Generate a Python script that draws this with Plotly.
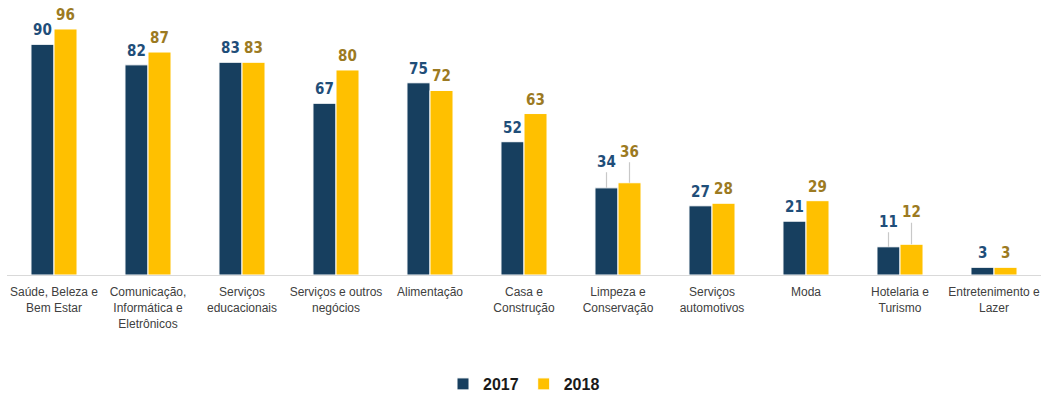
import plotly.graph_objects as go

categories = [
    "Saúde, Beleza e<br>Bem Estar",
    "Comunicação,<br>Informática e<br>Eletrônicos",
    "Serviços<br>educacionais",
    "Serviços e outros<br>negócios",
    "Alimentação",
    "Casa e<br>Construção",
    "Limpeza e<br>Conservação",
    "Serviços<br>automotivos",
    "Moda",
    "Hotelaria e<br>Turismo",
    "Entretenimento e<br>Lazer",
]
values_2017 = [90, 82, 83, 67, 75, 52, 34, 27, 21, 11, 3]
values_2018 = [96, 87, 83, 80, 72, 63, 36, 28, 29, 12, 3]

# labels lifted with a leader line (category index -> pixel lift)
lift_2017 = {6: 26, 9: 25}
lift_2018 = {6: 31, 9: 32}

NAVY = "#173f5f"
GOLD = "#ffc000"
NAVY_TXT = "#1f4e79"
GOLD_TXT = "#9c7a22"
LABEL_FONT = "DejaVu Sans Condensed, Roboto, Arial Narrow, sans-serif"

fig = go.Figure()
fig.add_bar(x=categories, y=values_2017, name="<b>2017</b>",
            marker=dict(color=NAVY, line=dict(color="white", width=1)))
fig.add_bar(x=categories, y=values_2018, name="<b>2018</b>",
            marker=dict(color=GOLD, line=dict(color="white", width=1)))

annotations = []
for series, lifts, shift, color in [
    (values_2017, lift_2017, -11.5, NAVY_TXT),
    (values_2018, lift_2018, 11.5, GOLD_TXT),
]:
    for i, (cat, v) in enumerate(zip(categories, series)):
        font = dict(family=LABEL_FONT, size=15, color=color, weight="bold")
        if i in lifts:
            annotations.append(dict(
                x=cat, y=v, xref="x", yref="y", text=str(v), xshift=shift,
                showarrow=True, arrowhead=0, arrowwidth=1.2, arrowcolor="#c8c8c8",
                ax=0, ay=-lifts[i], standoff=0, font=font))
        else:
            annotations.append(dict(
                x=cat, y=v, xref="x", yref="y", text=str(v), xshift=shift,
                yshift=14, showarrow=False, yanchor="middle", font=font))

fig.update_layout(
    width=1041, height=394,
    margin=dict(l=7, r=0, t=10, b=119, autoexpand=False),
    barmode="group", bargap=0.51, bargroupgap=0,
    plot_bgcolor="white", paper_bgcolor="white",
    showlegend=True,
    legend=dict(orientation="h", x=0.5, xanchor="center",
                yref="container", y=10 / 394, yanchor="middle",
                font=dict(family="Liberation Sans, Arial, sans-serif", size=16, color="#1a1a1a"),
                itemwidth=30, traceorder="normal"),
    annotations=annotations,
    font=dict(family="Liberation Sans, Arial, sans-serif"),
)
fig.update_xaxes(showline=True, linecolor="#d9d9d9", linewidth=1, ticks="",
                 ticklabelstandoff=6,
                 tickfont=dict(family="Liberation Sans, Arial, sans-serif", size=12, color="#404040"),
                 showgrid=False, fixedrange=True)
fig.update_yaxes(range=[0, 103.4], visible=False, showgrid=False, zeroline=False)

fig.write_html("out.html")
